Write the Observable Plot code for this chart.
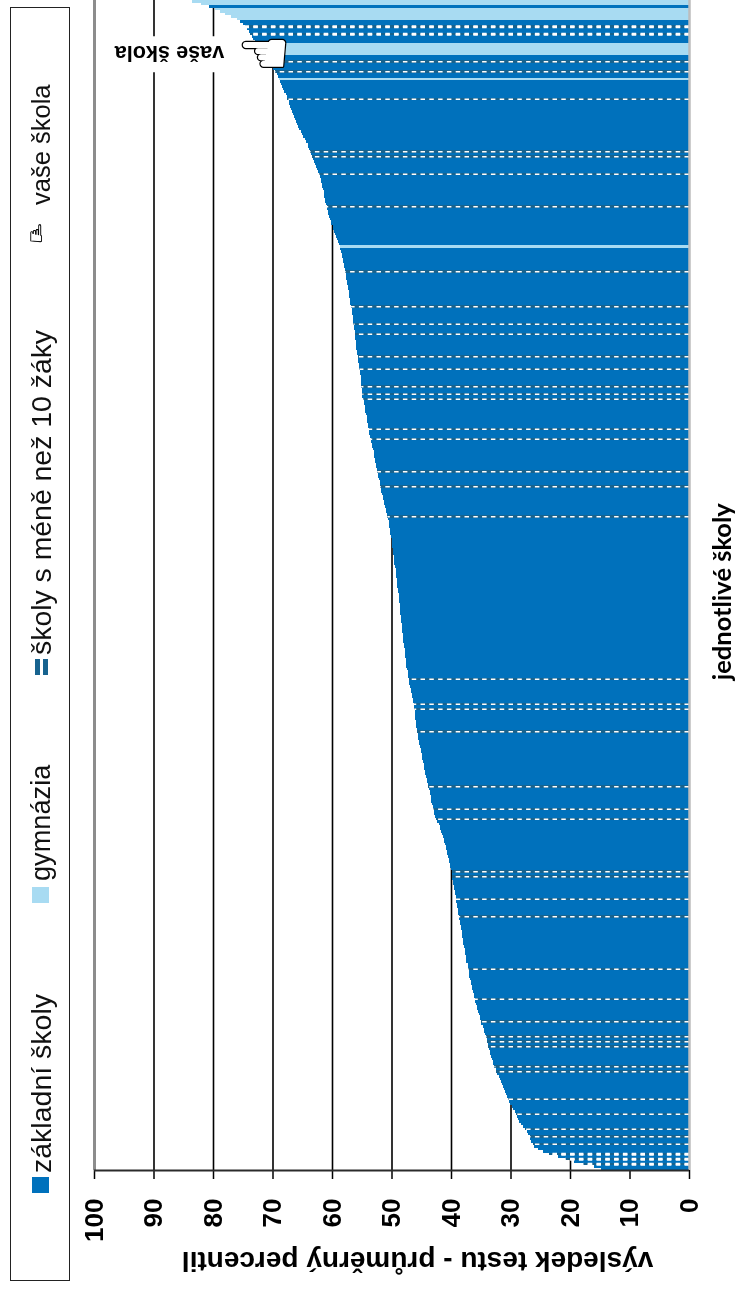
<!DOCTYPE html>
<html lang="cs"><head><meta charset="utf-8">
<script src="https://cdn.jsdelivr.net/npm/d3@7"></script>
<script src="https://cdn.jsdelivr.net/npm/@observablehq/plot@0.6"></script>
<style>
html,body{margin:0;padding:0;background:#fff;overflow:hidden}
#page{position:relative;width:735px;height:1291px;filter:blur(.35px)}
#page svg{position:absolute;left:0;top:0}
#legendBox{position:absolute;left:10px;top:7px;width:58px;height:1272px;border:1.5px solid #222}
.lg{position:absolute;left:41px;font-family:"Liberation Sans",sans-serif;color:#111;white-space:nowrap;transform-origin:0 50%;transform:rotate(-90deg);line-height:30px;height:30px;margin-top:-15px}
.sw{position:absolute}
</style></head><body><div id="page"></div>
<script>
const xTicks = [0,10,20,30,40,50,60,70,80,90,100];
const gridValues = [10,20,30,40,50,60,70,80,90];
const labelAxis = "výsledek testu - průměrný percentil";
const labelSchools = "jednotlivé školy";
const labelYours = "vaše škola";
const yourRank = 446;
const scores = [
14.8,16.0,17.8,19.4,20.8,22.0,23.5,24.5,25.3,26.0,
26.3,26.5,26.7,26.8,27.0,27.3,27.6,27.9,28.2,28.5,
28.8,28.9,29.0,29.2,29.5,29.8,30.1,30.2,30.4,30.6,
30.8,31.0,31.1,31.3,31.5,31.6,31.8,32.0,32.2,32.4,
32.5,32.7,32.9,33.0,33.1,33.2,33.4,33.5,33.6,33.7,
33.8,33.9,34.0,34.1,34.3,34.4,34.5,34.7,34.9,35.0,
35.1,35.2,35.3,35.5,35.6,35.7,35.8,35.9,36.0,36.1,
36.2,36.3,36.4,36.5,36.6,36.7,36.8,36.9,37.0,37.0,
37.1,37.2,37.2,37.4,37.5,37.5,37.6,37.7,37.7,37.8,
37.9,37.9,38.0,38.1,38.2,38.2,38.3,38.4,38.5,38.5,
38.6,38.7,38.8,38.9,38.9,39.0,39.0,39.1,39.2,39.2,
39.3,39.4,39.5,39.5,39.6,39.7,39.8,39.8,39.9,39.9,
40.0,40.1,40.2,40.3,40.4,40.5,40.6,40.7,40.8,40.9,
41.0,41.1,41.2,41.3,41.5,41.6,41.8,41.9,42.1,42.3,
42.5,42.7,42.8,42.9,43.0,43.1,43.2,43.3,43.3,43.4,
43.5,43.6,43.7,43.8,43.9,44.0,44.1,44.2,44.3,44.4,
44.5,44.6,44.6,44.7,44.8,44.9,44.9,45.0,45.1,45.2,
45.3,45.4,45.5,45.5,45.6,45.7,45.7,45.8,45.8,45.9,
46.0,46.0,46.1,46.1,46.2,46.2,46.3,46.4,46.4,46.5,
46.6,46.7,46.8,46.9,47.0,47.0,47.1,47.2,47.3,47.3,
47.4,47.5,47.5,47.6,47.6,47.7,47.7,47.8,47.8,47.9,
47.9,48.0,48.0,48.1,48.1,48.2,48.2,48.3,48.3,48.4,
48.4,48.4,48.5,48.5,48.6,48.6,48.6,48.7,48.7,48.8,
48.8,48.9,48.9,49.0,49.0,49.1,49.1,49.2,49.2,49.3,
49.3,49.4,49.5,49.5,49.6,49.6,49.7,49.8,49.8,49.9,
49.9,50.0,50.0,50.1,50.2,50.2,50.3,50.4,50.4,50.5,
50.6,50.7,50.8,50.9,51.0,51.1,51.2,51.3,51.4,51.5,
51.6,51.7,51.8,51.9,52.0,52.0,52.1,52.2,52.3,52.4,
52.5,52.6,52.6,52.7,52.8,52.9,53.0,53.0,53.1,53.2,
53.3,53.4,53.5,53.6,53.7,53.8,53.8,53.9,54.0,54.1,
54.2,54.2,54.3,54.4,54.5,54.5,54.6,54.7,54.8,54.9,
54.9,55.0,55.0,55.1,55.1,55.2,55.2,55.2,55.3,55.3,
55.4,55.4,55.5,55.6,55.7,55.7,55.8,55.8,55.9,55.9,
56.0,56.0,56.1,56.1,56.2,56.2,56.3,56.3,56.4,56.4,
56.5,56.5,56.6,56.7,56.7,56.8,56.9,57.0,57.0,57.1,
57.1,57.2,57.3,57.3,57.4,57.5,57.6,57.6,57.7,57.8,
57.8,57.9,58.0,58.1,58.2,58.3,58.4,58.5,58.6,58.7,
58.8,59.0,59.2,59.3,59.5,59.6,59.8,59.9,60.1,60.2,
60.4,60.5,60.6,60.7,60.8,60.9,61.0,61.1,61.2,61.3,
61.3,61.4,61.5,61.6,61.7,61.8,61.9,62.1,62.2,62.4,
62.6,62.7,62.9,63.0,63.2,63.4,63.5,63.7,63.8,64.0,
64.1,64.4,64.6,64.8,65.0,65.2,65.5,65.7,65.9,66.1,
66.3,66.4,66.6,66.8,66.9,67.0,67.2,67.3,67.5,67.6,
67.8,68.0,68.2,68.4,68.6,68.8,68.9,69.0,69.2,69.6,
70.0,70.3,70.6,70.9,71.2,71.5,71.8,72.0,72.2,72.4,
72.6,72.9,73.2,73.5,73.8,74.0,74.3,74.7,75.0,75.5,
76.0,77.0,78.0,78.8,79.6,80.6,82.0,83.5];
const gymnasia = [369,436,446,447,448,449,450,460,461,462,463,464,466,467];
const smallSchools = [2,4,6,10,13,16,22,28,39,41,49,51,53,59,68,80,101,108,117,119,140,144,153,175,184,186,196,261,273,279,292,296,308,310,313,320,325,334,338,345,359,385,398,405,407,428,439,443,454,457];
const smallWide = [2,4,6,454,457];
const colBase = "#0071bc", colGym = "#a8dbf2", colSmall = "#17638f";

const ranks = d3.range(scores.length);
const small = new Set(smallSchools), gym = new Set(gymnasia);
const fill = i => small.has(i) ? colSmall : gym.has(i) ? colGym : colBase;
const font = '"Liberation Sans",sans-serif';

const chart = Plot.plot({
  width:735, height:1291, marginTop:0, marginBottom:121, marginLeft:94, marginRight:46,
  style:{fontFamily:font, background:"transparent", color:"#000", overflow:"visible"},
  x:{domain:[100,0], label:null},
  y:{type:"band", domain:ranks.slice().reverse(), padding:0, round:false, axis:null},
  marks:[
    Plot.ruleX(gridValues,{stroke:"#000",strokeWidth:1.6}),
    Plot.ruleX([100],{stroke:"#8c8c8c",strokeWidth:3}),
    Plot.ruleY([yourRank],{x1:98,x2:76,stroke:"#fff",strokeWidth:36}),
    Plot.barX(ranks,{y:d=>d,x1:0,x2:i=>scores[i],fill,shapeRendering:"crispEdges"}),
    Plot.ruleY(smallSchools,{y:d=>d,x1:0,x2:i=>scores[i],stroke:"#fff",strokeWidth:1.7,strokeDasharray:"4.5,4.3"}),
    Plot.ruleY(smallWide,{y:d=>d,x1:0,x2:i=>scores[i],stroke:"#fff",strokeWidth:3,strokeDasharray:"4.5,4.3"}),
    Plot.ruleX([0],{stroke:"#bdbdbd",strokeWidth:2.5}),
    Plot.axisX(xTicks,{anchor:"bottom",tickSize:9,tickPadding:19,tickRotate:-90,fontSize:26,fontWeight:"bold",stroke:"#000",strokeWidth:1.5,label:null,tickFormat:d=>String(d)}),
    Plot.ruleY([0],{x1:100,x2:0,dy:1.25,stroke:"#2b2b2b",strokeWidth:2}),
    Plot.text([labelAxis],{x:()=>45.7,frameAnchor:"bottom",dy:81,rotate:180,fontSize:28,fontWeight:"bold",fill:"#000"}),
    Plot.text([labelSchools],{x:()=>-5.6,y:()=>231,rotate:-90,fontSize:25.5,fontWeight:"bold",fontFamily:"Lato",fill:"#000"}),
    Plot.text([labelYours],{x:()=>87.4,y:()=>yourRank,dy:-1,rotate:180,fontSize:21.7,fontWeight:"bold",fill:"#000"}),
    Plot.text(["\u261A"],{x:()=>71.5,y:()=>yourRank,fontSize:58,fontFamily:"DejaVu Sans",fill:"#fff",stroke:"#000",strokeWidth:2.5})
  ]
});
const page = document.getElementById("page");
page.appendChild(chart);
const legendItems = [
  {label:"základní školy", start:1173, size:28.5, sw:[[32,1177,17,16,colBase]]},
  {label:"gymnázia", start:881, size:27.2, sw:[[32,887,17,16,colGym]]},
  {label:"školy s méně než 10 žáky", start:655, size:28.4, sw:[[35,659,5,16,colSmall],[43,659,5,16,colSmall]]},
  {label:"vaše škola", start:205, size:25.5, sw:[]}
];
const box=document.createElement("div");box.id="legendBox";page.appendChild(box);
for(const it of legendItems){
  const s=document.createElement("div");s.className="lg";s.textContent=it.label;s.style.top=it.start+"px";s.style.fontSize=it.size+"px";page.appendChild(s);
  for(const a of it.sw){const d=document.createElement("div");d.className="sw";
    d.style.cssText=`left:${a[0]}px;top:${a[1]}px;width:${a[2]}px;height:${a[3]}px;background:${a[4]}`;page.appendChild(d);}
}
const h=document.createElement("div");h.textContent="\u261D";h.style.cssText='position:absolute;left:29px;top:221px;font:24px "DejaVu Sans";color:#000;line-height:26px;-webkit-text-stroke:.4px #000';page.appendChild(h);
</script></body></html>
